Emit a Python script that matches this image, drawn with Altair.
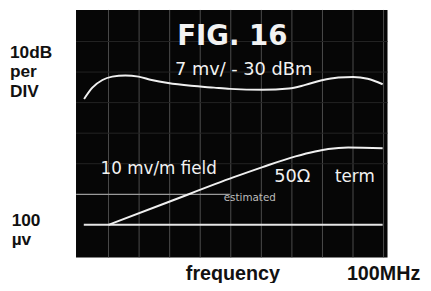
import altair as alt
import pandas as pd

# x in screen divisions (10 divisions = 100 MHz), y in dB above 100 µV (10 dB/div)
upper_x = [0.20, 0.47, 0.80, 1.12, 1.55, 1.98, 2.41, 2.95, 3.70, 4.45, 4.98,
           6.04, 6.90, 7.44, 7.98, 8.52, 9.00, 9.48, 9.97]
upper_db = [41.2, 44.9, 47.4, 48.5, 48.9, 48.5, 47.4, 46.4, 45.5, 44.9, 44.5,
            44.2, 44.6, 45.8, 47.3, 48.2, 48.4, 47.8, 46.0]

lower_x = [1.0, 2.94, 5.10, 6.04, 7.12, 7.76, 8.19, 8.84, 9.97]
lower_db = [0.0, 7.4, 15.6, 18.9, 22.4, 24.0, 24.8, 25.3, 25.1]

ref_x = [0.19, 9.97]          # 100 µV reference trace
ref_db = [0.0, 0.0]
seg_x = [-0.06, 4.97]         # partial graticule trace at +10 dB
seg_db = [10.0, 10.0]

grid_x = [1, 2, 3, 4, 5, 6, 7, 8, 9, 10]
grid_db = [20, 30, 40, 50, 60]

scale_label = ["10dB", "per", "DIV"]
level_label = ["100", "µv"]

xs = alt.Scale(domain=[-0.0645, 10.129], nice=False, zero=False)
ys = alt.Scale(domain=[-10.645, 70.32], nice=False, zero=False)


def X(f="x"):
    return alt.X(f + ":Q", scale=xs, axis=None)


def Y(f="y"):
    return alt.Y(f + ":Q", scale=ys, axis=None)


layers = []

# graticule
layers.append(alt.Chart(pd.DataFrame({"x": grid_x})).mark_rule(
    color="#4c4c4c", strokeWidth=1).encode(x=X()))
layers.append(alt.Chart(pd.DataFrame({"y": grid_db})).mark_rule(
    color="#242424", strokeWidth=1).encode(y=Y()))
layers.append(alt.Chart(pd.DataFrame({"x": [seg_x[0]], "x2": [seg_x[1]], "y": [seg_db[0]]}))
              .mark_rule(color="#9a9a9a", strokeWidth=1.3)
              .encode(x=X(), x2="x2", y=Y()))
layers.append(alt.Chart(pd.DataFrame({"x": [ref_x[0]], "x2": [ref_x[1]], "y": [ref_db[0]]}))
              .mark_rule(color="#e6e6e6", strokeWidth=2)
              .encode(x=X(), x2="x2", y=Y()))

# traces
layers.append(alt.Chart(pd.DataFrame({"x": upper_x, "y": upper_db})).mark_line(
    color="#f0f0f0", strokeWidth=2, interpolate="monotone").encode(x=X(), y=Y()))
layers.append(alt.Chart(pd.DataFrame({"x": lower_x, "y": lower_db})).mark_line(
    color="#f0f0f0", strokeWidth=2, interpolate="monotone").encode(x=X(), y=Y()))


def label(text, x, y, size, font, bold, color, align="left", line_height=None):
    kw = dict(font=font, fontSize=size, fontWeight="bold" if bold else "normal",
              color=color, align=align, baseline="alphabetic")
    if line_height is not None:
        kw["lineHeight"] = line_height
    return alt.Chart(pd.DataFrame({"x": [x], "y": [y], "t": [text]})).mark_text(
        **kw).encode(x=X(), y=Y(), text="t")


W = "#f2f2f2"
layers += [
    label("FIG. 16", 5.05, 58.9, 28, "DejaVu Sans", True, W, "center"),
    label("7 mv/ - 30 dBm", 5.42, 48.9, 18, "DejaVu Sans", False, W, "center"),
    label("10 mv/m field", 0.74, 16.7, 17, "DejaVu Sans", False, W),
    label("50Ω", 6.42, 14.1, 18, "DejaVu Sans", False, W),
    label("term", 8.41, 14.1, 17, "DejaVu Sans", False, W),
    label("estimated", 4.77, 7.9, 10.5, "DejaVu Sans", False, "#bdbdbd"),
]

K = "#111111"
F = "Liberation Sans"
layers += [
    label(scale_label, -2.226, 54.6, 17.5, F, True, K, line_height=19.6),
    label(level_label, -2.171, -0.23, 17.5, F, True, K, line_height=20),
    label("frequency", 3.53, -18.0, 20, F, True, K),
    label("100MHz", 8.80, -18.0, 20, F, True, K),
]

chart = alt.layer(*layers).properties(
    width=316, height=251,
    padding={"left": 69, "top": 0, "right": 36, "bottom": 24},
    autosize=alt.AutoSizeParams(type="none"),
    background="white",
).configure_view(fill="#060606", strokeWidth=0)

chart.save("out.html", embed_options={"renderer": "svg", "actions": False})
